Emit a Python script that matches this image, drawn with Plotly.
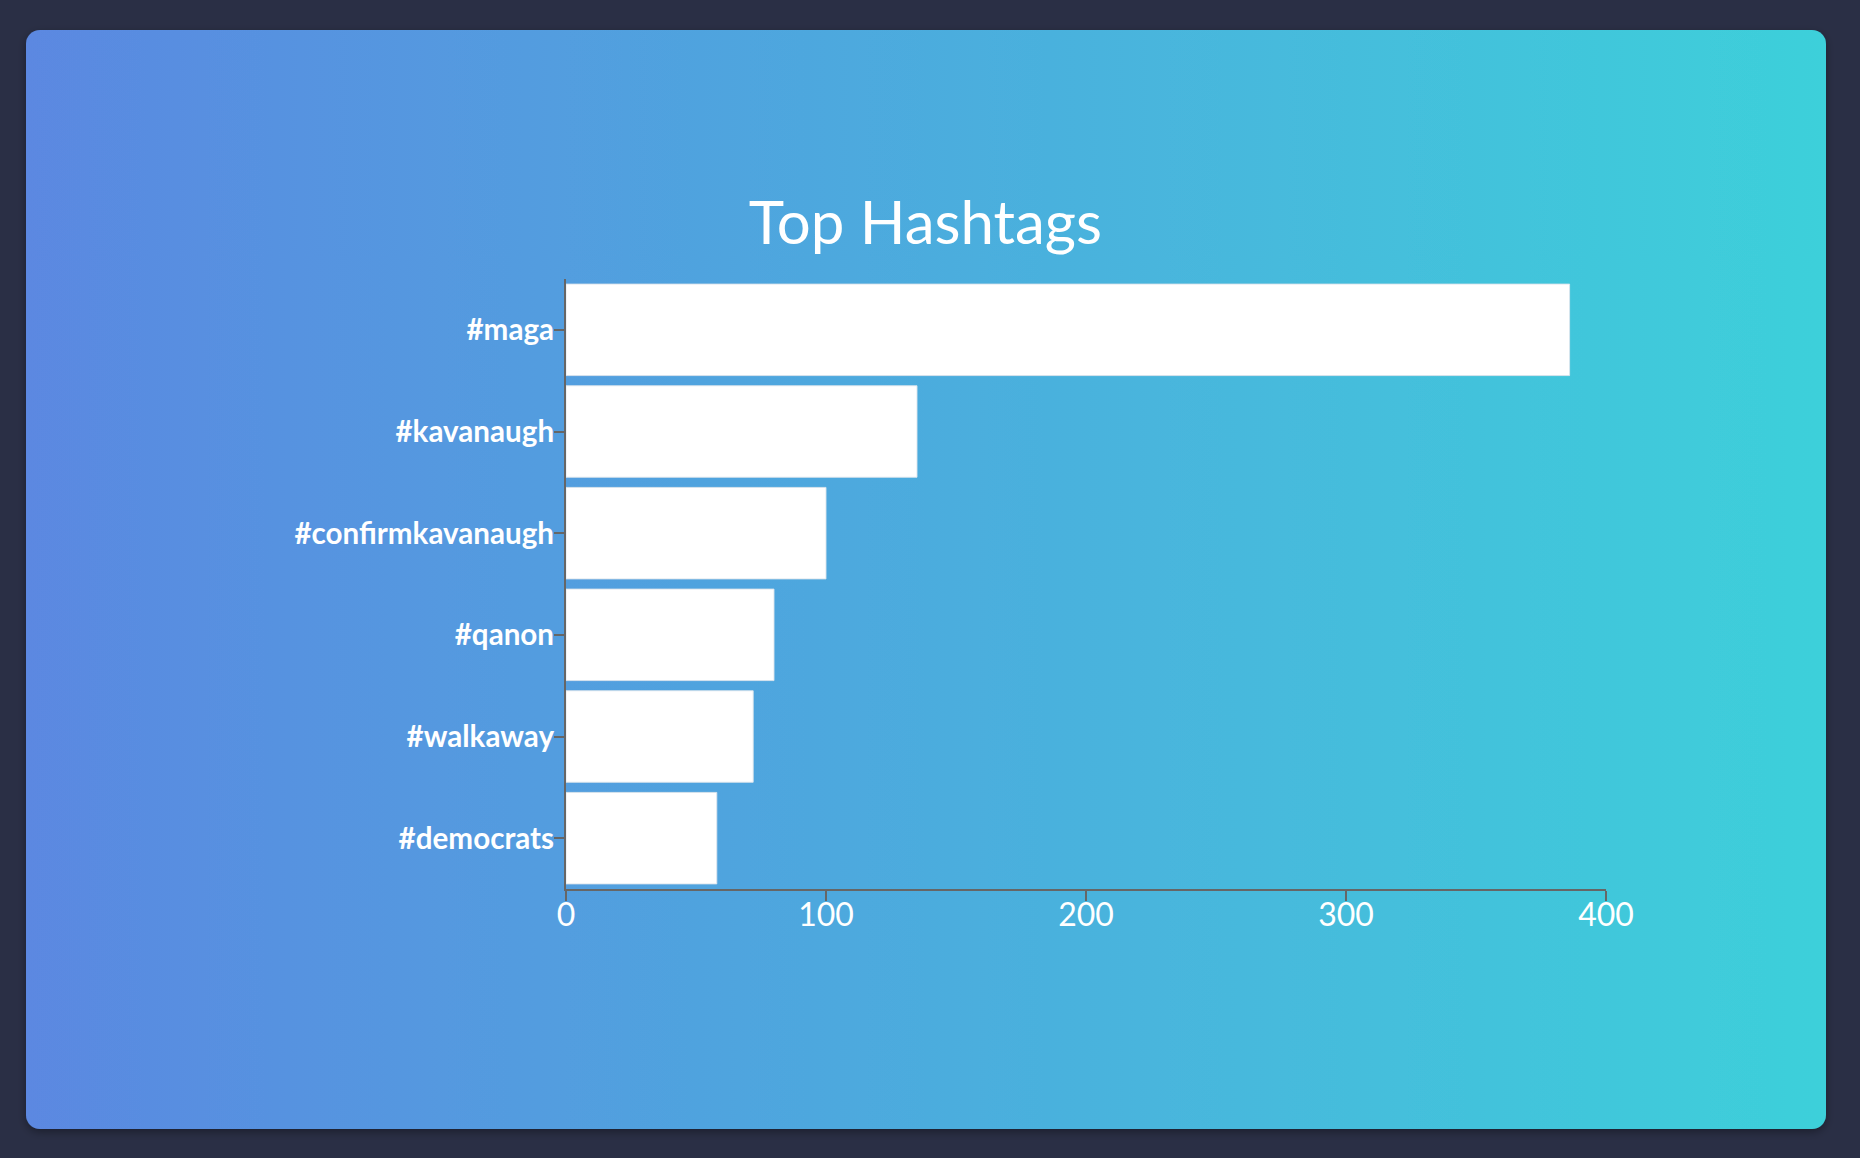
import base64
import plotly.graph_objects as go

# ---- data ----
hashtags = ["#maga", "#kavanaugh", "#confirmkavanaugh", "#qanon", "#walkaway", "#democrats"]
counts = [386, 135, 100, 80, 72, 58]
x_ticks = [0, 100, 200, 300, 400]

W, H = 1860, 1158
L, R, T, B = 566, 254, 279, 269
pw, ph = W - L - R, H - T - B

svg = f'''<svg xmlns="http://www.w3.org/2000/svg" width="{W}" height="{H}" viewBox="0 0 {W} {H}">
<defs>
<linearGradient id="g" x1="0" y1="0" x2="1" y2="0">
<stop offset="0" stop-color="#5B88E1"/>
<stop offset="1" stop-color="#3DD0DA"/>
</linearGradient>
<filter id="s" x="-5%" y="-5%" width="110%" height="110%">
<feDropShadow dx="0" dy="3" stdDeviation="4" flood-color="#000" flood-opacity="0.35"/>
</filter>
</defs>
<rect width="{W}" height="{H}" fill="#2A2F45"/>
<rect x="26" y="30" width="1800" height="1099" rx="14" ry="14" fill="url(#g)" filter="url(#s)"/>
</svg>'''
src = "data:image/svg+xml;base64," + base64.b64encode(svg.encode()).decode()

fig = go.Figure(go.Bar(
    x=counts, y=hashtags, orientation="h",
    marker=dict(color="white", line=dict(color="rgba(220,228,236,0.9)", width=1)),
))

fig.update_layout(
    width=W, height=H,
    margin=dict(l=L, r=R, t=T, b=B, pad=0),
    paper_bgcolor="#2A2F45",
    plot_bgcolor="rgba(0,0,0,0)",
    bargap=0.1,
    showlegend=False,
    font=dict(family="Lato", color="white"),
    title=dict(text="Top Hashtags", font=dict(family="Lato", size=60, color="white"),
               x=0.4975, xref="container", xanchor="center",
               y=1 - 223 / H, yref="container", yanchor="middle"),
    images=[dict(source=src, xref="paper", yref="paper",
                 x=-L / pw, y=1 + T / ph, sizex=W / pw, sizey=H / ph,
                 xanchor="left", yanchor="top", sizing="stretch", layer="below")],
)

fig.update_xaxes(range=[0, 400], tickvals=x_ticks, showgrid=False, zeroline=False,
                 showline=True, linecolor="#666666", linewidth=2,
                 ticks="outside", ticklen=10, tickcolor="#666666", tickwidth=2,
                 ticklabelstandoff=-13,
                 tickfont=dict(family="Lato", size=32, color="white"))
fig.update_yaxes(categoryorder="array", categoryarray=hashtags, autorange="reversed",
                 showgrid=False, zeroline=False,
                 showline=True, linecolor="#666666", linewidth=2,
                 ticks="outside", ticklen=10, tickcolor="#666666", tickwidth=2,
                 ticklabelstandoff=-6,
                 tickfont=dict(family="Lato", size=29.6, color="white", weight="bold"))

fig.write_html("out.html", config={"displayModeBar": False},
               post_script="document.body.style.margin='0';document.body.style.overflow='hidden';")
